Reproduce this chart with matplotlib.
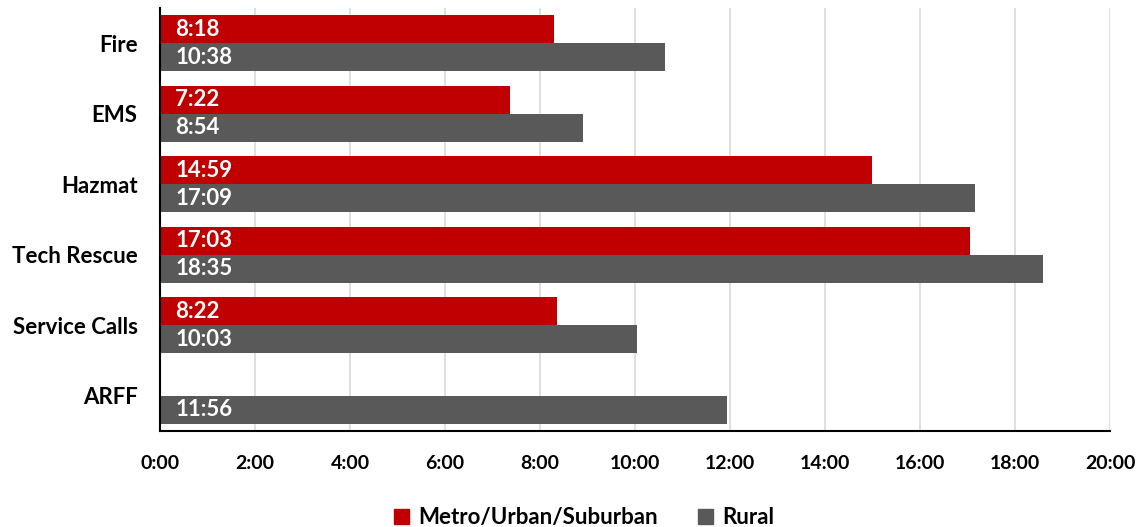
import numpy as np
import matplotlib.pyplot as plt
from matplotlib.patches import Patch

plt.rcParams['font.family'] = ['Lato', 'DejaVu Sans']
plt.rcParams['font.weight'] = 'bold'

# response times (mm:ss)
categories = ["Fire", "EMS", "Hazmat", "Tech Rescue", "Service Calls", "ARFF"]
metro = ["8:18", "7:22", "14:59", "17:03", "8:22", None]
rural = ["10:38", "8:54", "17:09", "18:35", "10:03", "11:56"]
tick_labels = ["0:00", "2:00", "4:00", "6:00", "8:00", "10:00",
               "12:00", "14:00", "16:00", "18:00", "20:00"]


def to_min(s):
    if s is None:
        return np.nan
    m, sec = s.split(":")
    return int(m) + int(sec) / 60


metro_v = np.array([to_min(s) for s in metro])
rural_v = np.array([to_min(s) for s in rural])

red = "#C00000"
grey = "#595959"

fig = plt.figure(figsize=(11.45, 5.27), dpi=100)
ax = fig.add_axes([0.1397, 0.1822, 0.8297, 0.8026])

y = np.arange(len(categories))
h = 0.4
ax.barh(y - h / 2, np.nan_to_num(metro_v), height=h, color=red, zorder=2)
ax.barh(y + h / 2, rural_v, height=h, color=grey, zorder=2)

for i in range(len(categories)):
    if metro[i] is not None:
        ax.annotate(metro[i], (0, y[i] - h / 2), xytext=(11, 0),
                    textcoords="offset points", va="center", ha="left",
                    color="white", fontsize=16, fontweight="bold")
    ax.annotate(rural[i], (0, y[i] + h / 2), xytext=(11, 0),
                textcoords="offset points", va="center", ha="left",
                color="white", fontsize=16, fontweight="bold")

ax.set_ylim(len(categories) - 0.5, -0.5)
ax.set_yticks(y)
ax.set_yticklabels(categories, fontsize=16, fontweight="bold")
ax.set_xlim(0, 20)
ax.set_xticks(np.arange(0, 21, 2))
ax.set_xticklabels(tick_labels, fontsize=14, fontweight="bold")
ax.tick_params(axis="both", length=0)
ax.tick_params(axis="x", pad=17)
ax.tick_params(axis="y", pad=16)

ax.grid(axis="x", color="#D9D9D9", linewidth=1.2, zorder=0)
ax.set_axisbelow(True)
for s in ["top", "right"]:
    ax.spines[s].set_visible(False)
ax.spines["left"].set_color("black")
ax.spines["left"].set_linewidth(1.5)
ax.spines["bottom"].set_color("black")
ax.spines["bottom"].set_linewidth(1.5)

handles = [Patch(color=red, label="Metro/Urban/Suburban"),
           Patch(color=grey, label="Rural")]
fig.legend(handles=handles, loc="lower center", bbox_to_anchor=(0.51, -0.04),
           ncol=2, frameon=False, prop={"size": 16, "weight": "bold"},
           handlelength=0.7, handleheight=0.7, columnspacing=1.8, handletextpad=0.4)

fig.savefig("out.png", dpi=100)
